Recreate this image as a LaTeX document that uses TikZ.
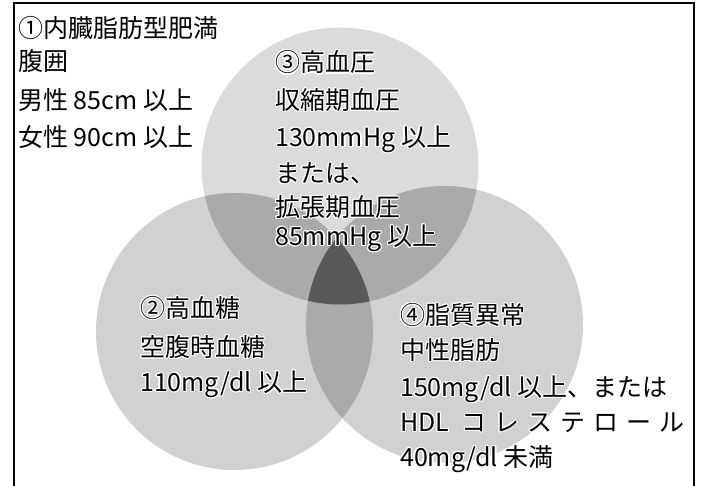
\documentclass[tikz,border=0pt]{standalone}
\usepackage{fontspec}
\setmainfont{Noto Sans CJK JP}
\usepackage{contour}
\contourlength{1.1pt}
\contournumber{16}
\definecolor{gTop}{gray}{0.86}
\definecolor{gLow}{gray}{0.82}
\definecolor{gTwo}{gray}{0.665}
\definecolor{gThree}{gray}{0.35}
\newcommand{\ct}[1]{\contour{white}{#1}}
\newcommand{\kg}{\hspace{8pt}}
\begin{document}
\begin{tikzpicture}[x=1pt,y=-1pt,
  txt/.style={anchor=base west, inner sep=0pt, font=\fontsize{25}{25}\selectfont},
  frame/.style={draw=black, line width=2pt}]
\useasboundingbox (0,0) rectangle (701,486);
\coordinate (cA) at (340,166);
\coordinate (cB) at (234.5,331.5);
\coordinate (cC) at (444.5,324.5);
\def\R{138.5}
\fill[gTop] (cA) circle (\R);
\fill[gLow] (cB) circle (\R);
\fill[gLow] (cC) circle (\R);
\begin{scope}
  \clip (cA) circle (\R);
  \fill[gTwo] (cB) circle (\R);
  \fill[gTwo] (cC) circle (\R);
\end{scope}
\begin{scope}
  \clip (cB) circle (\R);
  \fill[gTwo] (cC) circle (\R);
\end{scope}
\begin{scope}
  \clip (cA) circle (\R);
  \clip (cB) circle (\R);
  \fill[gThree] (cC) circle (\R);
\end{scope}
\draw[frame] (14,500) -- (14,3) -- (694,3) -- (694,500);
% block 1
\node[txt] (a1) at (18,37.5) {\ct{①内臓脂肪型肥満}};
\node[txt] (a2) at (18,70.5) {\ct{腹囲}};
\node[txt] (a3) at (18,109.5) {\ct{男性 85cm 以上}};
\node[txt] (a4) at (18,146.5) {\ct{女性 90cm 以上}};
% block 3
\node[txt] (c1) at (275,72) {\ct{③高血圧}};
\node[txt] (c2) at (275,109.5) {\ct{収縮期血圧}};
\node[txt] (c3) at (275,146.5) {\ct{130mmHg 以上}};
\node[txt] (c4) at (275,182.5) {\ct{または、}};
\node[txt] (c5) at (275,216.5) {\ct{拡張期血圧}};
\node[txt] (c6) at (275,245.5) {\ct{85mmHg 以上}};
% block 2
\node[txt] (b1) at (140,317.5) {\ct{②高血糖}};
\node[txt] (b2) at (140,356.5) {\ct{空腹時血糖}};
\node[txt] (b3) at (140,391.5) {\ct{110mg/dl 以上}};
% block 4
\node[txt] (d1) at (400,324.5) {\ct{④脂質異常}};
\node[txt] (d2) at (400,359.5) {\ct{中性脂肪}};
\node[txt] (d3) at (400,396.5) {\ct{150mg/dl 以上、または}};
\node[txt] (d4) at (400,431.5) {\ct{HDL\hspace{12pt}コ\kg レ\kg ス\kg テ\kg ロ\kg ー\kg ル}};
\node[txt] (d5) at (400,466.5) {\ct{40mg/dl 未満}};
\end{tikzpicture}
\end{document}
